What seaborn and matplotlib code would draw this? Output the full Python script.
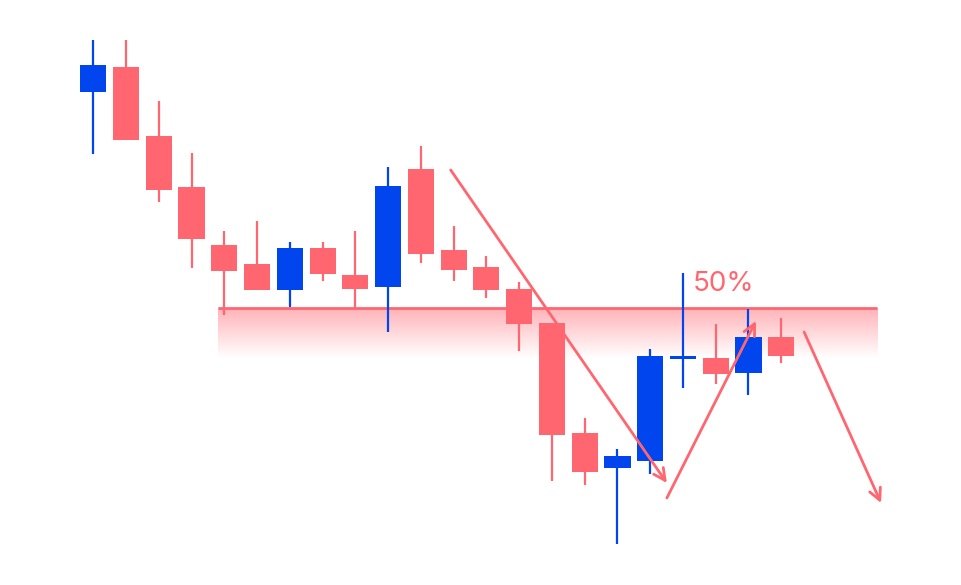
import numpy as np
import seaborn as sns
from matplotlib import pyplot as plt
from matplotlib.colors import LinearSegmentedColormap

# candle data (price units)
opens = [493, 518, 449, 398, 340, 321, 295, 337, 310, 298, 416, 335, 318, 296, 262, 152, 117, 124, 226, 227, 212, 248]
closes = [520, 445, 395, 346, 314, 295, 337, 311, 296, 399, 331, 315, 295, 261, 150, 113, 129, 229, 229, 211, 248, 229]
highs = [545, 545, 484, 432, 354, 364, 343, 343, 354, 418, 439, 359, 329, 303, 262, 167, 136, 236, 312, 261, 276, 267]
lows = [431, 445, 383, 317, 270, 295, 278, 304, 275, 253, 322, 304, 287, 234, 104, 100, 41, 111, 197, 201, 190, 222]

zone_level = 277
zone_bottom = 227
zone_start, zone_end = 3.81, 23.93

arrow_starts = [(10.91, 415), (17.51, 87), (21.70, 253)]
arrow_ends = [(17.51, 102), (20.23, 264), (24.05, 82)]

label_text = "50%"
label_pos = (18.31, 301)

red = "#ff666f"
blue = "#0045ee"

sns.set_theme(style="white")
plt.rcParams['font.family'] = ['Inter', 'DejaVu Sans']

fig = plt.figure(figsize=(9.61, 5.85), dpi=100)
ax = fig.add_axes([0, 0, 1, 1])
ax.set_xlim(-2.849, 26.49)
ax.set_ylim(0, 585)
ax.axis("off")

# support zone with fading fill
fade = LinearSegmentedColormap.from_list("fade", ["#ffffff", "#ffb3b8"])
grad = np.linspace(0, 1, 200).reshape(-1, 1)
ax.imshow(grad, cmap=fade, aspect="auto", origin="lower",
          extent=[zone_start, zone_end, zone_bottom, zone_level], zorder=1)
ax.hlines(zone_level, zone_start, zone_end, color=red, lw=2, zorder=2)

# candles
x = np.arange(len(opens))
for i in x:
    o, c, h, l = opens[i], closes[i], highs[i], lows[i]
    col = blue if c >= o else red
    ax.vlines(i, l, h, color=col, lw=1.6, zorder=3)
    body = max(abs(c - o), 3)
    ax.bar(i, body, bottom=min(o, c), width=0.8, color=col, lw=0, zorder=4)

# move arrows
for (x0, y0), (x1, y1) in zip(arrow_starts, arrow_ends):
    ax.annotate("", xy=(x1, y1), xytext=(x0, y0),
                arrowprops=dict(arrowstyle="->,head_length=0.7,head_width=0.35",
                                color=red, lw=2, shrinkA=0, shrinkB=0),
                zorder=5)

ax.text(label_pos[0], label_pos[1], label_text, color=red, fontsize=20,
        ha="left", va="center", zorder=6)

plt.savefig("out.png", dpi=100)
